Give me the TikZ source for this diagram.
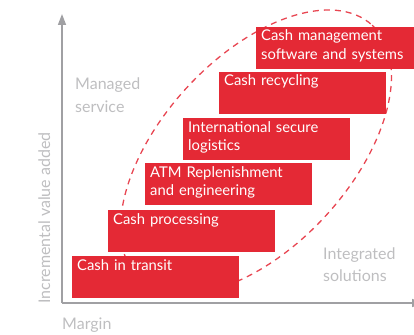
\documentclass[tikz,border=0pt]{standalone}
\usepackage{fontspec}
\setmainfont{Lato}
\usetikzlibrary{arrows.meta}
\definecolor{boxred}{RGB}{228,41,53}
\definecolor{dashred}{RGB}{232,70,82}
\definecolor{axisgray}{RGB}{160,160,163}
\definecolor{labgray}{RGB}{190,190,192}
\tikzset{
  stepbox/.style={fill=boxred, draw=none, minimum width=167, minimum height=42, anchor=north west, inner sep=0, outer sep=0},
  boxtext/.style={text=white, anchor=base west, inner sep=0, text width=162, align=left, font=\fontsize{14.8}{18.7}\selectfont},
  lab/.style={text=labgray, anchor=base west, inner sep=0, text width=90, align=left, font=\fontsize{16}{22}\selectfont},
  axis/.style={draw=axisgray, line width=1.6, -{Triangle[length=11pt,width=8pt]}}
}
\begin{document}
\begin{tikzpicture}[x=1pt,y=-1pt]
\useasboundingbox (0,0) rectangle (414,334);
\clip (0,0) rectangle (414,334);
% axes
\coordinate (o) at (62,303);
\coordinate (ytop) at (62,14);
\coordinate (xend) at (423,303);
\draw[axis] (o) -- (ytop);
\draw[axis] (o) -- (xend);
% dashed ellipse
\draw[dashred, line width=1.3, dash pattern=on 6pt off 5pt, shift={(256,152)}, rotate=47.5] (0,0) ellipse [x radius=172, y radius=94.5];
% boxes
\node[stepbox] (b1) at (72,256) {};
\node[stepbox] (b2) at (108,210) {};
\node[stepbox] (b3) at (145,163) {};
\node[stepbox] (b4) at (183,118) {};
\node[stepbox] (b5) at (219,72) {};
\node[stepbox] (b6) at (256,27) {};
\node[boxtext] (t1) at ([shift={(5,14)}]b1.north west) {Cash in transit};
\node[boxtext] (t2) at ([shift={(5,14)}]b2.north west) {Cash processing};
\node[boxtext] (t3) at ([shift={(5,14)}]b3.north west) {ATM Replenishment\\and engineering};
\node[boxtext] (t4) at ([shift={(5,14)}]b4.north west) {International secure\\logistics};
\node[boxtext] (t5) at ([shift={(5,14)}]b5.north west) {Cash recycling};
\node[boxtext] (t6) at ([shift={(5,14)}]b6.north west) {Cash management\\software and systems};
% labels
\node[lab] (ms) at (75,90) {Managed\\service};
\node[lab] (is) at (323,259) {Integrated\\solutions};
\node[lab] (mg) at (62,329) {Margin};
\node[lab, text width=, rotate=90, anchor=base west] (iv) at (50,304) {Incremental value added};
\end{tikzpicture}
\end{document}
